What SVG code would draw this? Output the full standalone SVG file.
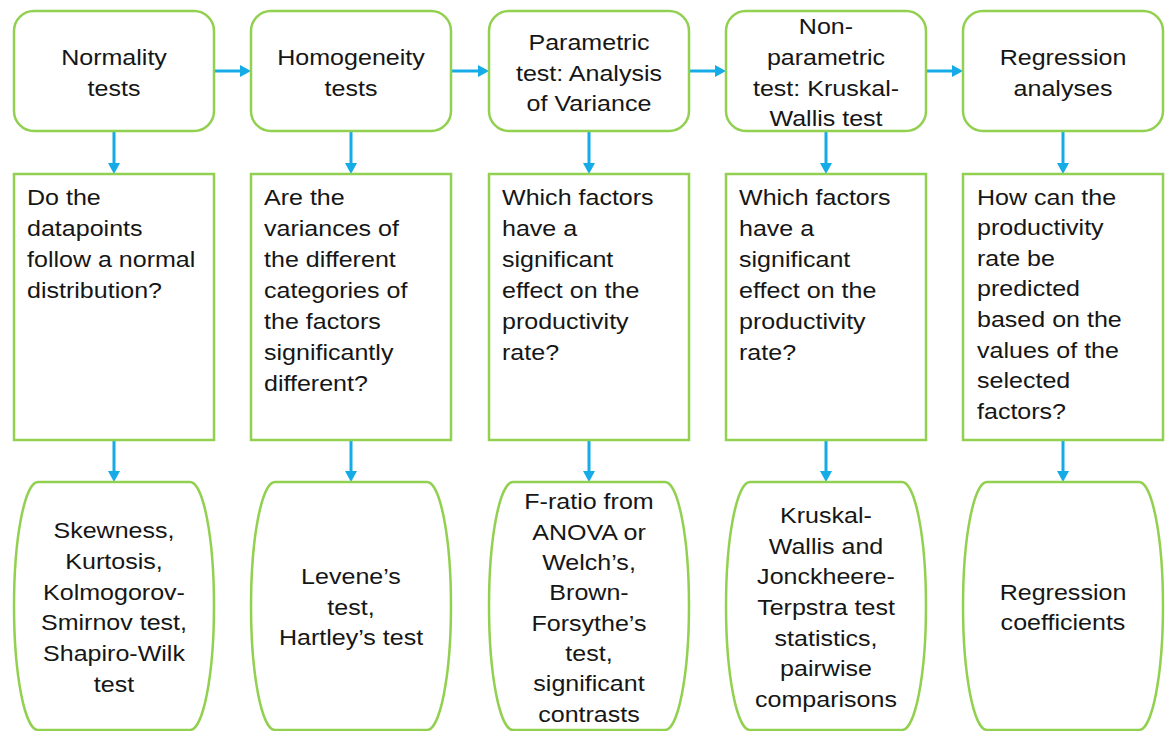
<svg xmlns="http://www.w3.org/2000/svg" width="1166" height="731" viewBox="0 0 1166 731">
  <style>
    .box { fill: #ffffff; stroke: #92d050; stroke-width: 2.5; }
    .link { fill: none; stroke: #14abe6; stroke-width: 3; marker-end: url(#head); }
    .t { font-family: "Liberation Sans", Arial, sans-serif; font-size: 21.5px; fill: #161616; }
    .c { text-anchor: middle; }
  </style>
  <defs>
    <marker id="head" markerUnits="userSpaceOnUse" markerWidth="11" markerHeight="12" viewBox="0 0 11 12" refX="0" refY="6" orient="auto">
      <path d="M0,0 L11,6 L0,12 Z" fill="#14abe6"/>
    </marker>
  </defs>
  <rect width="1166" height="731" fill="#ffffff"/>

  <!-- connectors -->
  <g id="connectors">
    <!-- method chain -->
    <path class="link" d="M214,71 H240"/>
    <path class="link" d="M451,71 H478"/>
    <path class="link" d="M689,71 H715"/>
    <path class="link" d="M926,71 H952"/>
    <!-- method to question -->
    <path class="link" d="M114,131 V163"/>
    <path class="link" d="M351,131 V163"/>
    <path class="link" d="M589,131 V163"/>
    <path class="link" d="M826,131 V163"/>
    <path class="link" d="M1063,131 V163"/>
    <!-- question to output -->
    <path class="link" d="M114,440 V471"/>
    <path class="link" d="M351,440 V471"/>
    <path class="link" d="M589,440 V471"/>
    <path class="link" d="M826,440 V471"/>
    <path class="link" d="M1063,440 V471"/>
  </g>

  <!-- column 1 -->
  <g id="normality">
    <rect class="box" x="14" y="11" width="200" height="120" rx="20"/>
    <text class="t c" transform="translate(114 0) scale(1.165 1)"><tspan x="0" y="65">Normality</tspan><tspan x="0" y="96">tests</tspan></text>
  </g>
  <g id="normality-question">
    <rect class="box" x="14" y="174" width="200" height="266"/>
    <text class="t" transform="translate(27 0) scale(1.165 1)"><tspan x="0" y="205">Do the</tspan><tspan x="0" y="236">datapoints</tspan><tspan x="0" y="267">follow a normal</tspan><tspan x="0" y="298">distribution?</tspan></text>
  </g>
  <g id="normality-output">
    <path class="box" d="M38,482 H190 A24,124 0 0 1 190,730 H38 A24,124 0 0 1 38,482 Z"/>
    <text class="t c" transform="translate(114 0) scale(1.165 1)"><tspan x="0" y="538">Skewness,</tspan><tspan x="0" y="569">Kurtosis,</tspan><tspan x="0" y="600">Kolmogorov-</tspan><tspan x="0" y="630.5">Smirnov test,</tspan><tspan x="0" y="661">Shapiro-Wilk</tspan><tspan x="0" y="692">test</tspan></text>
  </g>

  <!-- column 2 -->
  <g id="homogeneity">
    <rect class="box" x="251" y="11" width="200" height="120" rx="20"/>
    <text class="t c" transform="translate(351 0) scale(1.165 1)"><tspan x="0" y="65">Homogeneity</tspan><tspan x="0" y="96">tests</tspan></text>
  </g>
  <g id="homogeneity-question">
    <rect class="box" x="251" y="174" width="200" height="266"/>
    <text class="t" transform="translate(264 0) scale(1.165 1)"><tspan x="0" y="205.5">Are the</tspan><tspan x="0" y="236.5">variances of</tspan><tspan x="0" y="267.5">the different</tspan><tspan x="0" y="298.5">categories of</tspan><tspan x="0" y="329.5">the factors</tspan><tspan x="0" y="360.5">significantly</tspan><tspan x="0" y="391.5">different?</tspan></text>
  </g>
  <g id="homogeneity-output">
    <path class="box" d="M275,482 H427 A24,124 0 0 1 427,730 H275 A24,124 0 0 1 275,482 Z"/>
    <text class="t c" transform="translate(351 0) scale(1.165 1)"><tspan x="0" y="584.5">Levene’s</tspan><tspan x="0" y="615">test,</tspan><tspan x="0" y="645.5">Hartley’s test</tspan></text>
  </g>

  <!-- column 3 -->
  <g id="anova">
    <rect class="box" x="489" y="11" width="200" height="120" rx="20"/>
    <text class="t c" transform="translate(589 0) scale(1.165 1)"><tspan x="0" y="50.5">Parametric</tspan><tspan x="0" y="81">test: Analysis</tspan><tspan x="0" y="111">of Variance</tspan></text>
  </g>
  <g id="anova-question">
    <rect class="box" x="489" y="174" width="200" height="266"/>
    <text class="t" transform="translate(502 0) scale(1.165 1)"><tspan x="0" y="205">Which factors</tspan><tspan x="0" y="236">have a</tspan><tspan x="0" y="267">significant</tspan><tspan x="0" y="298">effect on the</tspan><tspan x="0" y="329">productivity</tspan><tspan x="0" y="360">rate?</tspan></text>
  </g>
  <g id="anova-output">
    <path class="box" d="M513,482 H665 A24,124 0 0 1 665,730 H513 A24,124 0 0 1 513,482 Z"/>
    <text class="t c" transform="translate(589 0) scale(1.165 1)"><tspan x="0" y="509.5">F-ratio from</tspan><tspan x="0" y="540">ANOVA or</tspan><tspan x="0" y="570">Welch’s,</tspan><tspan x="0" y="600.5">Brown-</tspan><tspan x="0" y="631">Forsythe’s</tspan><tspan x="0" y="661">test,</tspan><tspan x="0" y="691.5">significant</tspan><tspan x="0" y="722">contrasts</tspan></text>
  </g>

  <!-- column 4 -->
  <g id="kruskal-wallis">
    <rect class="box" x="726" y="11" width="200" height="120" rx="20"/>
    <text class="t c" transform="translate(826 0) scale(1.165 1)"><tspan x="0" y="34.5">Non-</tspan><tspan x="0" y="65">parametric</tspan><tspan x="0" y="96">test: Kruskal-</tspan><tspan x="0" y="126">Wallis test</tspan></text>
  </g>
  <g id="kruskal-wallis-question">
    <rect class="box" x="726" y="174" width="200" height="266"/>
    <text class="t" transform="translate(739 0) scale(1.165 1)"><tspan x="0" y="205">Which factors</tspan><tspan x="0" y="236">have a</tspan><tspan x="0" y="267">significant</tspan><tspan x="0" y="298">effect on the</tspan><tspan x="0" y="329">productivity</tspan><tspan x="0" y="360">rate?</tspan></text>
  </g>
  <g id="kruskal-wallis-output">
    <path class="box" d="M750,482 H902 A24,124 0 0 1 902,730 H750 A24,124 0 0 1 750,482 Z"/>
    <text class="t c" transform="translate(826 0) scale(1.165 1)"><tspan x="0" y="523.5">Kruskal-</tspan><tspan x="0" y="554">Wallis and</tspan><tspan x="0" y="584.5">Jonckheere-</tspan><tspan x="0" y="615.5">Terpstra test</tspan><tspan x="0" y="646">statistics,</tspan><tspan x="0" y="676.5">pairwise</tspan><tspan x="0" y="707">comparisons</tspan></text>
  </g>

  <!-- column 5 -->
  <g id="regression">
    <rect class="box" x="963" y="11" width="200" height="120" rx="20"/>
    <text class="t c" transform="translate(1063 0) scale(1.165 1)"><tspan x="0" y="65">Regression</tspan><tspan x="0" y="96">analyses</tspan></text>
  </g>
  <g id="regression-question">
    <rect class="box" x="963" y="174" width="200" height="266"/>
    <text class="t" transform="translate(977 0) scale(1.165 1)"><tspan x="0" y="205">How can the</tspan><tspan x="0" y="235.5">productivity</tspan><tspan x="0" y="266">rate be</tspan><tspan x="0" y="296.5">predicted</tspan><tspan x="0" y="327.5">based on the</tspan><tspan x="0" y="358">values of the</tspan><tspan x="0" y="388.5">selected</tspan><tspan x="0" y="419">factors?</tspan></text>
  </g>
  <g id="regression-output">
    <path class="box" d="M987,482 H1139 A24,124 0 0 1 1139,730 H987 A24,124 0 0 1 987,482 Z"/>
    <text class="t c" transform="translate(1063 0) scale(1.165 1)"><tspan x="0" y="600">Regression</tspan><tspan x="0" y="630.5">coefficients</tspan></text>
  </g>
</svg>
